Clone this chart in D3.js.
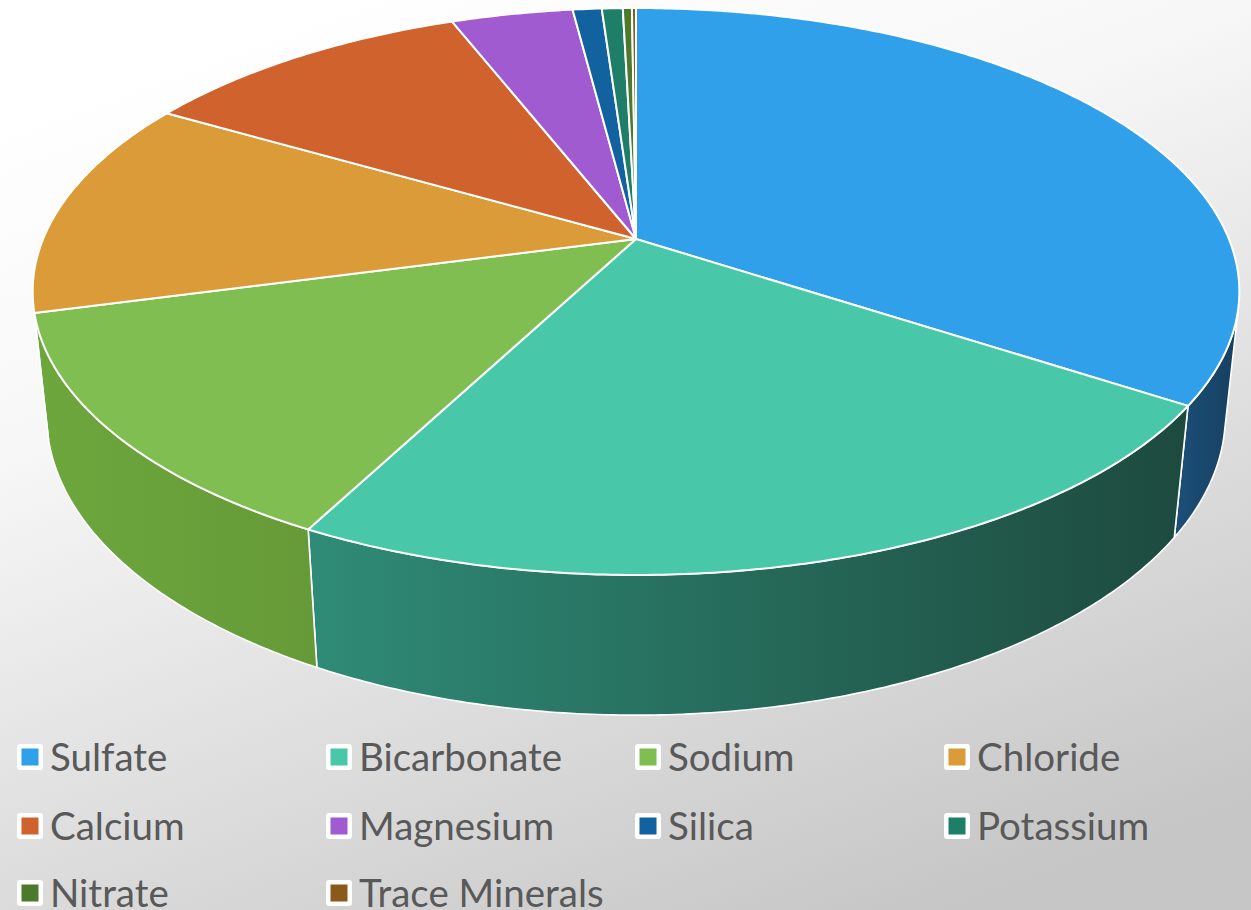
<!DOCTYPE html>
<html>
<head>
<meta charset="utf-8">
<script src="https://cdn.jsdelivr.net/npm/d3@7"></script>
<style>
html,body{margin:0;padding:0;background:#fff;}
svg{display:block;}
</style>
</head>
<body>
<script>
// ---- data ----
const categories = ["Sulfate","Bicarbonate","Sodium","Chloride","Calcium","Magnesium","Silica","Potassium","Nitrate","Trace Minerals"];
const values = [34.2, 23.4, 13.2, 12.5, 10.7, 3.9, 0.93, 0.67, 0.29, 0.13];
const topColors = ["#2fa0e9","#48c8a9","#80be51","#dc9b39","#d0632d","#a05bd0","#11629f","#1f7e68","#4a7a2a","#8a5a1a"];
const sideColorsA = ["#1c4f78","#2f8b77","#6ca73d","#b97f2c","#a84f22","#7f45a6","#0b4676","#175f4f","#385d1f","#6a4412"];
const sideColorsB = ["#163f60","#1d4a3e","#669a38","#9a6a24","#8c421c","#6a3a8a","#093a60","#124d40","#2f4f1a","#5a3a10"];

const W = 1251, H = 910;
const svg = d3.select("body").append("svg").attr("width", W).attr("height", H);
const defs = svg.append("defs");

// background
const bg = defs.append("linearGradient").attr("id","bg")
  .attr("x1","0.25").attr("y1","0").attr("x2","0.75").attr("y2","1");
bg.append("stop").attr("offset","0").attr("stop-color","#ffffff");
bg.append("stop").attr("offset","0.3").attr("stop-color","#f7f7f7");
bg.append("stop").attr("offset","1").attr("stop-color","#c6c6c6");
svg.append("rect").attr("width",W).attr("height",H).attr("fill","url(#bg)");

// perspective projection of the pie disk
const cam = {cx:636, cy:239, F:2840, D:4.79, s:0.4617, c:0.887, h:0.238};
function proj(x, y, z){
  const d = cam.D + y*cam.c - z*cam.s;
  return [cam.cx + cam.F*x/d, cam.cy - cam.F*(y*cam.s + z*cam.c)/d];
}
function rim(a, z){ return proj(Math.sin(a), Math.cos(a), z); }

const pie = d3.pie().sort(null).value(d => d)(values);
const line = d3.line();

function arcPts(a0, a1, z){
  const n = Math.max(2, Math.ceil((a1-a0)/0.01));
  const pts = [];
  for(let i=0;i<=n;i++) pts.push(rim(a0 + (a1-a0)*i/n, z));
  return pts;
}

// visible range of the outer wall
const aVis = Math.acos(-1/(cam.D*cam.c));
const aLo = aVis, aHi = 2*Math.PI - aVis;

// side walls (visible part only)
const gSide = svg.append("g");
pie.forEach((p, i) => {
  const a0 = Math.max(p.startAngle, aLo), a1 = Math.min(p.endAngle, aHi);
  if(a1 <= a0) return;
  const top = arcPts(a0, a1, 0), bot = arcPts(a0, a1, -cam.h).reverse();
  const gid = "side"+i;
  const xs = top.concat(bot).map(d=>d[0]);
  const lg = defs.append("linearGradient").attr("id",gid).attr("gradientUnits","userSpaceOnUse")
    .attr("x1", d3.min(xs)).attr("y1",0).attr("x2", d3.max(xs)).attr("y2",0);
  lg.append("stop").attr("offset","0").attr("stop-color",sideColorsA[i]);
  lg.append("stop").attr("offset","1").attr("stop-color",sideColorsB[i]);
  gSide.append("path").attr("d", line(top.concat(bot)) + "Z")
    .attr("fill","url(#"+gid+")").attr("stroke","#ffffff").attr("stroke-width",1.6)
    .attr("stroke-linejoin","round");
});

// top faces
const gTop = svg.append("g");
pie.forEach((p, i) => {
  const pts = [proj(0,0,0)].concat(arcPts(p.startAngle, p.endAngle, 0));
  gTop.append("path").attr("d", line(pts) + "Z")
    .attr("fill", topColors[i]).attr("stroke","#ffffff").attr("stroke-width",2)
    .attr("stroke-linejoin","round");
});

// legend
const lg = svg.append("g").attr("font-family","'Lato','DejaVu Sans',sans-serif")
  .attr("font-size",38.5).attr("fill","#595959");
const rowsY = [757, 826, 893];
categories.forEach((name, i) => {
  const col = i % 4, row = Math.floor(i/4);
  const x = 17 + col*309, y = rowsY[row];
  lg.append("rect").attr("x",x).attr("y",y-13).attr("width",26).attr("height",26)
    .attr("rx",3).attr("fill","#ffffff");
  lg.append("rect").attr("x",x+4.5).attr("y",y-8.5).attr("width",17).attr("height",17)
    .attr("fill",topColors[i]);
  lg.append("text").attr("x",x+33).attr("y",y).attr("dy","0.36em").text(name);
});
</script>
</body>
</html>
